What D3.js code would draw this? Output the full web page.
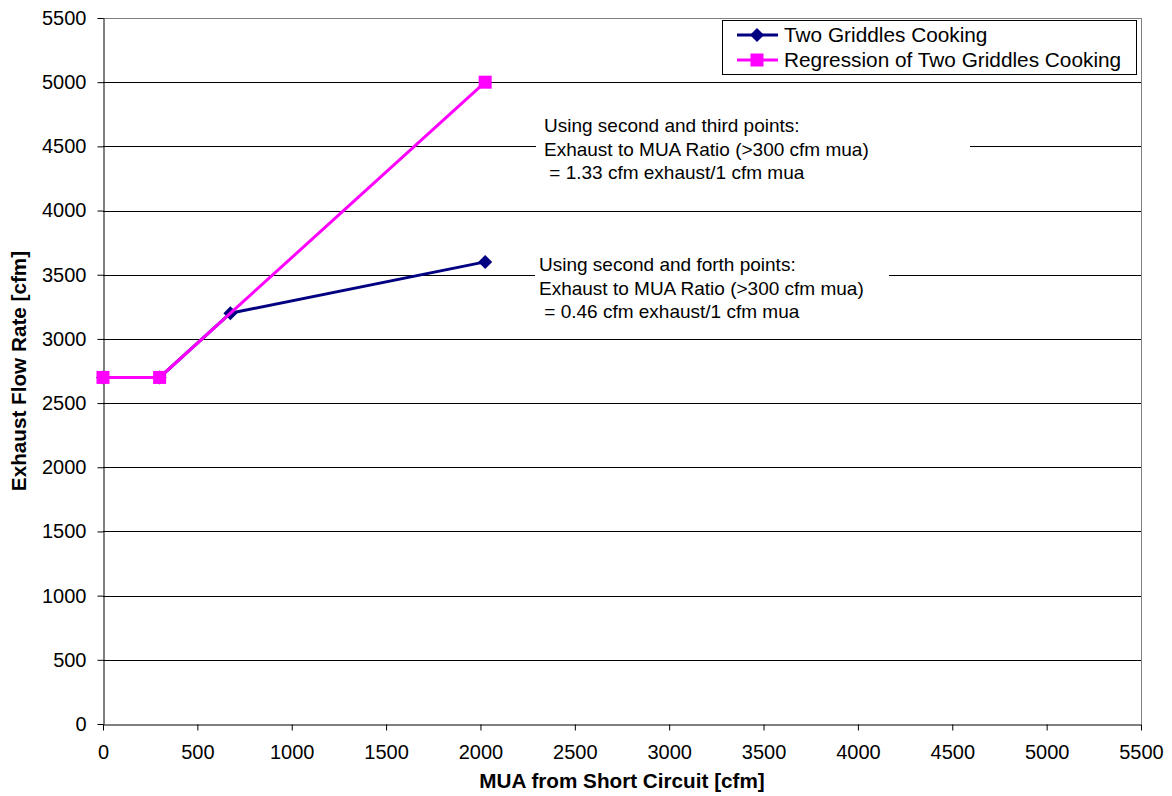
<!DOCTYPE html>
<html><head><meta charset="utf-8">
<script src="https://cdn.jsdelivr.net/npm/d3@7"></script>
<style>body{margin:0;background:#fff}svg{display:block}text{font-family:"Liberation Sans",Arial,sans-serif}</style>
</head><body><svg id="c" width="1172" height="796"></svg>
<script>
const seriesNames = ["Two Griddles Cooking", "Regression of Two Griddles Cooking"];
const measuredX = [0, 300, 675, 2025];
const measuredY = [2700, 2700, 3200, 3600];
const regressionX = [0, 300, 2025];
const regressionY = [2700, 2700, 5000];
const tickValues = [0, 500, 1000, 1500, 2000, 2500, 3000, 3500, 4000, 4500, 5000, 5500];
const note1 = ["Using second and third points:", "Exhaust to MUA Ratio (>300 cfm mua)", " = 1.33 cfm exhaust/1 cfm mua"];
const note2 = ["Using second and forth points:", "Exhaust to MUA Ratio (>300 cfm mua)", " = 0.46 cfm exhaust/1 cfm mua"];

const FS = 20;
const svg = d3.select("#c");
const L = 103, R = 1141, T = 18, B = 724;
const x = d3.scaleLinear().domain([0, 5500]).range([L, R]);
const y = d3.scaleLinear().domain([0, 5500]).range([B, T]);

svg.append("g").selectAll("line").data(tickValues.filter(v => v > 0 && v < 5500)).join("line")
  .attr("x1", L).attr("x2", R).attr("y1", d => Math.round(y(d)) + 0.5).attr("y2", d => Math.round(y(d)) + 0.5)
  .attr("stroke", "#000").attr("stroke-width", 1);
svg.append("line").attr("x1", L).attr("x2", R).attr("y1", T + 0.5).attr("y2", T + 0.5).attr("stroke", "#808080");
svg.append("line").attr("x1", R + 0.5).attr("x2", R + 0.5).attr("y1", T).attr("y2", B).attr("stroke", "#808080");

const xa = svg.append("g").attr("transform", `translate(0,${B + 0.5})`)
  .call(d3.axisBottom(x).tickValues(tickValues).tickSize(6).tickSizeOuter(0).tickPadding(14).tickFormat(d3.format("d")));
const ya = svg.append("g").attr("transform", `translate(${L + 0.5},0)`)
  .call(d3.axisLeft(y).tickValues(tickValues).tickSize(6).tickSizeOuter(0).tickPadding(11).tickFormat(d3.format("d")));
[xa, ya].forEach(a => {
  a.attr("font-size", FS).attr("font-family", '"Liberation Sans",Arial,sans-serif');
  a.select(".domain").attr("stroke", "#000");
  a.selectAll(".tick line").attr("stroke", "#000");
  a.selectAll("text").attr("fill", "#000");
});

svg.append("text").attr("x", 622).attr("y", 788).attr("text-anchor", "middle")
  .attr("font-size", 20.7).attr("font-weight", "bold").text("MUA from Short Circuit [cfm]");
svg.append("text").attr("transform", `translate(26,${(T + B) / 2}) rotate(-90)`).attr("text-anchor", "middle")
  .attr("font-size", 20.7).attr("font-weight", "bold").text("Exhaust Flow Rate [cfm]");

function note(lines, bx, by, bw, bh, tx, ty) {
  svg.append("rect").attr("x", bx).attr("y", by).attr("width", bw).attr("height", bh).attr("fill", "#fff");
  lines.forEach((t, i) => {
    svg.append("text").attr("x", tx).attr("y", ty + i * 23.5).attr("font-size", 19).attr("fill", "#000")
      .attr("xml:space", "preserve").style("white-space", "pre").text(t);
  });
}
note(note1, 536, 110, 434, 76, 544, 132);
note(note2, 535, 250, 354, 76, 539, 271);

const blue = "#000080", mag = "#FF00FF";
const line = d3.line().x(d => x(d[0])).y(d => y(d[1]));
const mData = measuredX.map((v, i) => [v, measuredY[i]]);
const rData = regressionX.map((v, i) => [v, regressionY[i]]);
const diamond = "M0,-7L7,0L0,7L-7,0Z";

svg.append("path").datum(mData).attr("d", line).attr("fill", "none").attr("stroke", blue).attr("stroke-width", 3);
svg.append("g").selectAll("path").data(mData).join("path")
  .attr("transform", d => `translate(${x(d[0])},${y(d[1])})`).attr("d", diamond).attr("fill", blue);

svg.append("path").datum(rData).attr("d", line).attr("fill", "none").attr("stroke", mag).attr("stroke-width", 3);
svg.append("g").selectAll("rect").data(rData).join("rect")
  .attr("x", d => x(d[0]) - 6.5).attr("y", d => y(d[1]) - 6.5).attr("width", 13).attr("height", 13).attr("fill", mag);

const lg = svg.append("g");
lg.append("rect").attr("x", 722.5).attr("y", 20.5).attr("width", 414).attr("height", 54).attr("fill", "#fff").attr("stroke", "#000");
[[blue, "diamond"], [mag, "square"]].forEach((s, i) => {
  const cy = 35 + i * 25;
  lg.append("line").attr("x1", 737).attr("x2", 778).attr("y1", cy).attr("y2", cy).attr("stroke", s[0]).attr("stroke-width", 3);
  if (s[1] === "diamond") lg.append("path").attr("transform", `translate(757,${cy})`).attr("d", diamond).attr("fill", s[0]);
  else lg.append("rect").attr("x", 750.5).attr("y", cy - 6.5).attr("width", 13).attr("height", 13).attr("fill", s[0]);
  lg.append("text").attr("x", 784).attr("y", cy + 7).attr("font-size", 20.8).attr("fill", "#000").text(seriesNames[i]);
});
</script></body></html>
